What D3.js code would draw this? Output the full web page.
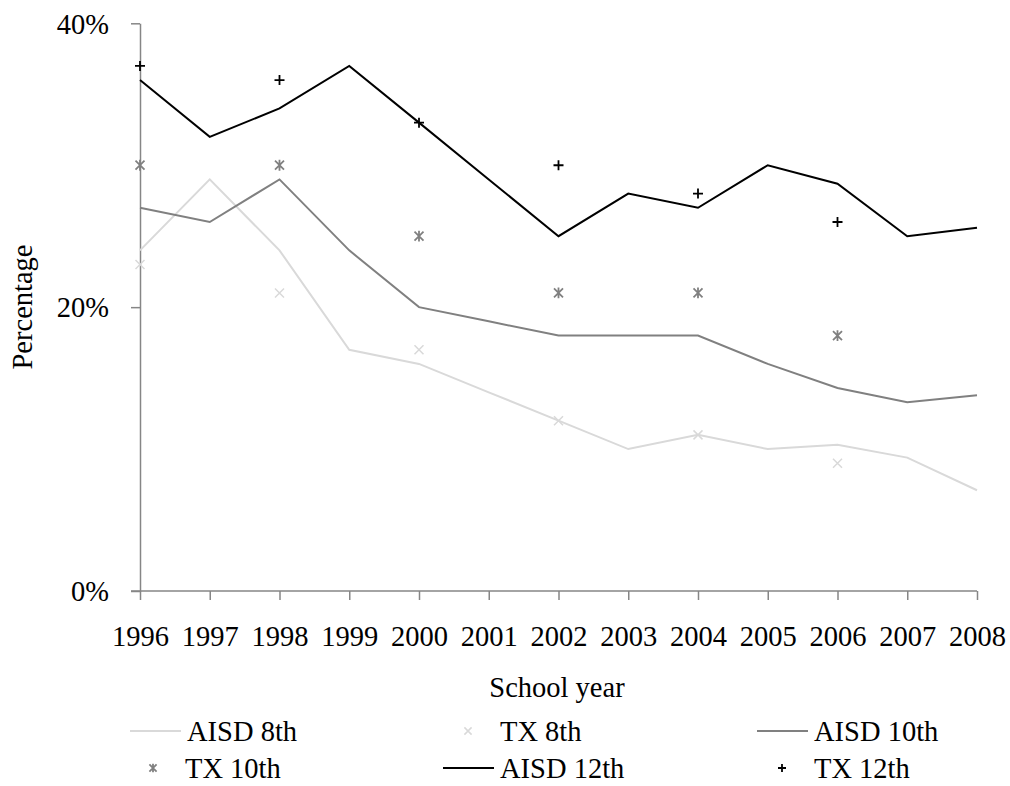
<!DOCTYPE html>
<html>
<head>
<meta charset="utf-8">
<script src="https://cdn.jsdelivr.net/npm/d3@7"></script>
<style>
  html, body { margin: 0; padding: 0; background: #fff; }
  svg text { font-family: "Liberation Serif", "Times New Roman", serif; fill: #000; }
</style>
</head>
<body>
<svg id="chart" width="1010" height="786"></svg>
<script>
// School years on the horizontal axis
const years = ["1996","1997","1998","1999","2000","2001","2002","2003","2004","2005","2006","2007","2008"];

// District series (percent), one value per year
const aisd8  = [24, 29, 24, 17, 16, 14, 12, 10, 11, 10, 10.3, 9.4, 7.1];
const aisd10 = [27, 26, 29, 24, 20, 19, 18, 18, 18, 16, 14.3, 13.3, 13.8];
const aisd12 = [36, 32, 34, 37, 33, 29, 25, 28, 27, 30, 28.7, 25, 25.6];

// State series (percent), reported in even years only
const tx8  = [23, null, 21, null, 17, null, 12, null, 11, null, 9, null, null];
const tx10 = [30, null, 30, null, 25, null, 21, null, 21, null, 18, null, null];
const tx12 = [37, null, 36, null, 33, null, 30, null, 28, null, 26, null, null];

const yTicks = [0, 20, 40];

const svg = d3.select("#chart");
const FONT = 28.5;
const AXIS = "#868686";

const x = d3.scalePoint().domain(years).range([140, 977]);
const y = d3.scaleLinear().domain([0, 40]).range([591, 23.3]);

// Axes
const gx = svg.append("g").attr("transform", "translate(0,591)")
  .call(d3.axisBottom(x).tickSize(9).tickPadding(26).tickSizeOuter(0));
gx.select(".domain").attr("d", "M131,0H977");
const gy = svg.append("g").attr("transform", "translate(140,0)")
  .call(d3.axisLeft(y).tickValues(yTicks).tickFormat(d => d + "%").tickSize(9).tickPadding(22).tickSizeOuter(0));
[gx, gy].forEach(g => {
  g.selectAll(".domain").attr("stroke", AXIS).attr("stroke-width", 1.5);
  g.selectAll(".tick line").attr("stroke", AXIS).attr("stroke-width", 1.5);
  g.selectAll(".tick text").attr("font-size", FONT).attr("font-family", "Liberation Serif").attr("fill", "#000");
});
gy.selectAll(".tick text").attr("dy", "0.34em");

// Axis titles
svg.append("text").attr("x", 557).attr("y", 697).attr("text-anchor", "middle")
  .attr("font-size", FONT).text("School year");
svg.append("text").attr("transform", "translate(32,307) rotate(-90)").attr("text-anchor", "middle")
  .attr("font-size", FONT).text("Percentage");

// Marker shapes
const markers = {
  cross: s => `M${-s},${-s}L${s},${s}M${-s},${s}L${s},${-s}`,
  star:  s => `M${-s},${-s}L${s},${s}M${-s},${s}L${s},${-s}M0,${-s * 1.2}V${s * 1.2}`,
  plus:  s => `M${-s},0H${s}M0,${-s}V${s}`
};

const lineSeries = [
  { name: "AISD 8th",  values: aisd8,  color: "#d9d9d9" },
  { name: "AISD 10th", values: aisd10, color: "#808080" },
  { name: "AISD 12th", values: aisd12, color: "#000000" }
];
const pointSeries = [
  { name: "TX 8th",  values: tx8,  color: "#d9d9d9", shape: "cross", size: 4.5, sw: 1.5 },
  { name: "TX 10th", values: tx10, color: "#808080", shape: "star",  size: 4.5, sw: 1.8 },
  { name: "TX 12th", values: tx12, color: "#000000", shape: "plus",  size: 5,   sw: 1.8 }
];

const line = d3.line().x((d, i) => x(years[i])).y(d => y(d));
lineSeries.forEach(s => {
  svg.append("path").datum(s.values).attr("d", line)
    .attr("fill", "none").attr("stroke", s.color).attr("stroke-width", 2)
    .attr("stroke-linejoin", "miter");
});

pointSeries.forEach(s => {
  const pts = s.values.map((v, i) => ({ year: years[i], v })).filter(d => d.v !== null);
  svg.append("g").selectAll("path").data(pts).join("path")
    .attr("transform", d => `translate(${x(d.year)},${y(d.v)})`)
    .attr("d", markers[s.shape](s.size))
    .attr("fill", "none").attr("stroke", s.color).attr("stroke-width", s.sw);
});

// Legend, two rows of three entries
const legend = [
  { s: lineSeries[0],  kind: "line",  x: 130, row: 0 },
  { s: pointSeries[0], kind: "point", x: 443, row: 0 },
  { s: lineSeries[1],  kind: "line",  x: 757, row: 0 },
  { s: pointSeries[1], kind: "point", x: 128, row: 1 },
  { s: lineSeries[2],  kind: "line",  x: 443, row: 1 },
  { s: pointSeries[2], kind: "point", x: 757, row: 1 }
];
const rowY = [731, 768];
legend.forEach(e => {
  const cy = rowY[e.row];
  const g = svg.append("g");
  if (e.kind === "line") {
    g.append("line").attr("x1", e.x).attr("x2", e.x + 51).attr("y1", cy).attr("y2", cy)
      .attr("stroke", e.s.color).attr("stroke-width", 2);
  } else {
    g.append("path").attr("transform", `translate(${e.x + 25},${cy})`)
      .attr("d", markers[e.s.shape](e.s.size * 0.8))
      .attr("fill", "none").attr("stroke", e.s.color).attr("stroke-width", e.s.sw);
  }
  g.append("text").attr("x", e.x + 57).attr("y", cy).attr("dy", "0.34em")
    .attr("font-size", FONT).text(e.s.name);
});
</script>
</body>
</html>
